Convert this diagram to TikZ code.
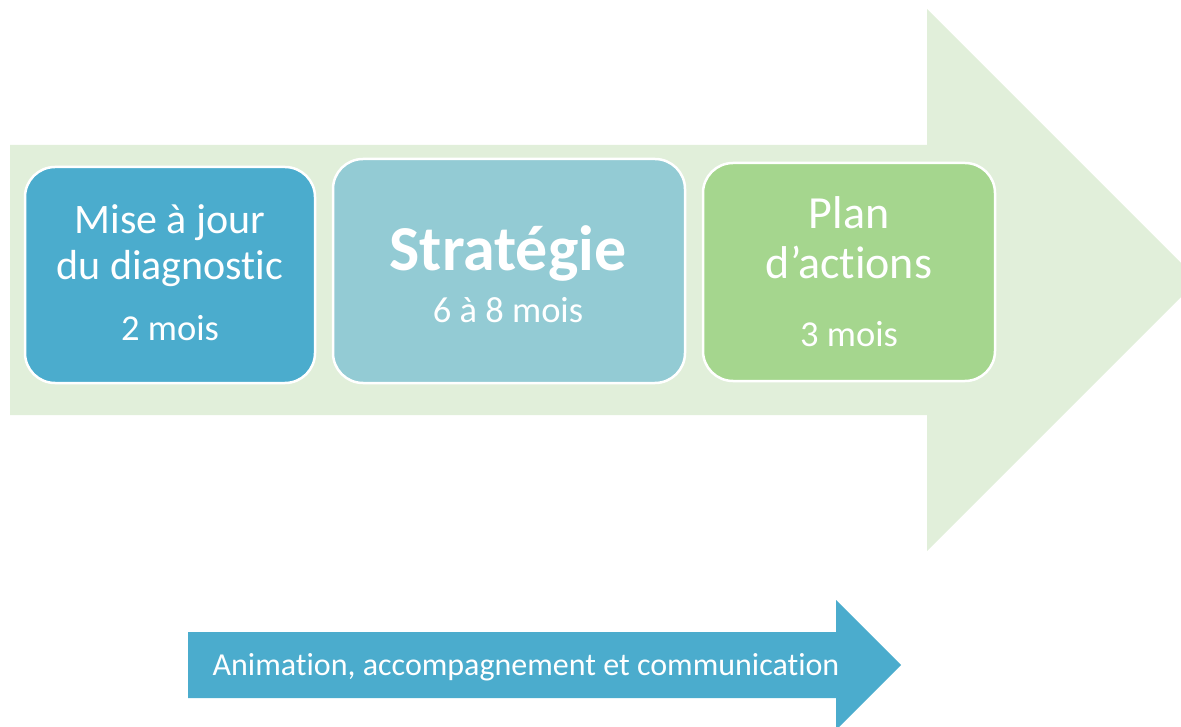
\documentclass[tikz,border=0pt]{standalone}
\usepackage{fontspec}
\setmainfont{Carlito}[Ligatures=NoCommon]
\definecolor{bigarrow}{HTML}{E1EFDA}
\definecolor{boxA}{HTML}{4BACCD}
\definecolor{boxB}{HTML}{93CBD4}
\definecolor{boxC}{HTML}{A5D68E}
\definecolor{smallarrow}{HTML}{4BACCD}
\begin{document}
\begin{tikzpicture}[x=1pt,y=-1pt,
  stagebox/.style={draw=white,line width=2.5pt,rounded corners=30pt,inner sep=0pt},
  txt/.style={text=white,anchor=base,inner sep=0pt},
  ftitleA/.style={font=\fontsize{42}{48}\selectfont},
  ftitleC/.style={font=\fontsize{46}{52}\selectfont},
  fdur/.style={font=\fontsize{36.5}{42}\selectfont},
  fbig/.style={font=\fontsize{64}{70}\selectfont\bfseries},
  fsmall/.style={font=\fontsize{32}{38}\selectfont}]
\useasboundingbox (0,0) rectangle (1181,727);
\clip (0,0) rectangle (1181,727);
% big background arrow
\fill[bigarrow] (10,145) -- (927,145) -- (927,9) -- (1198,280) -- (927,551) -- (927,415) -- (10,415) -- cycle;
% stage boxes
\node[stagebox,fill=boxA,minimum width=290pt,minimum height=216pt] (b1) at (170,275) {};
\node[stagebox,fill=boxB,minimum width=352pt,minimum height=224pt] (b2) at (509,271) {};
\node[stagebox,fill=boxC,minimum width=292pt,minimum height=218pt] (b3) at (849,272) {};
% texts
\node[txt,ftitleA] (t1a) at (170,234) {Mise à jour};
\node[txt,ftitleA] (t1b) at (170,280) {du diagnostic};
\node[txt,fdur] (t1c) at (170,341) {2 mois};
\node[txt,fbig] (t2a) at (508,271) {Stratégie};
\node[txt,fdur] (t2b) at (508,323) {6 à 8 mois};
\node[txt,ftitleC] (t3a) at (849,229) {Plan};
\node[txt,ftitleC] (t3b) at (849,279) {d’actions};
\node[txt,fdur] (t3c) at (849,346) {3 mois};
% small arrow
\fill[smallarrow] (188,632) -- (836,632) -- (836,600) -- (901,665) -- (836,730) -- (836,698) -- (188,698) -- cycle;
\node[txt,fsmall] (t4) at (526,675) {Animation, accompagnement et communication};
\end{tikzpicture}
\end{document}
